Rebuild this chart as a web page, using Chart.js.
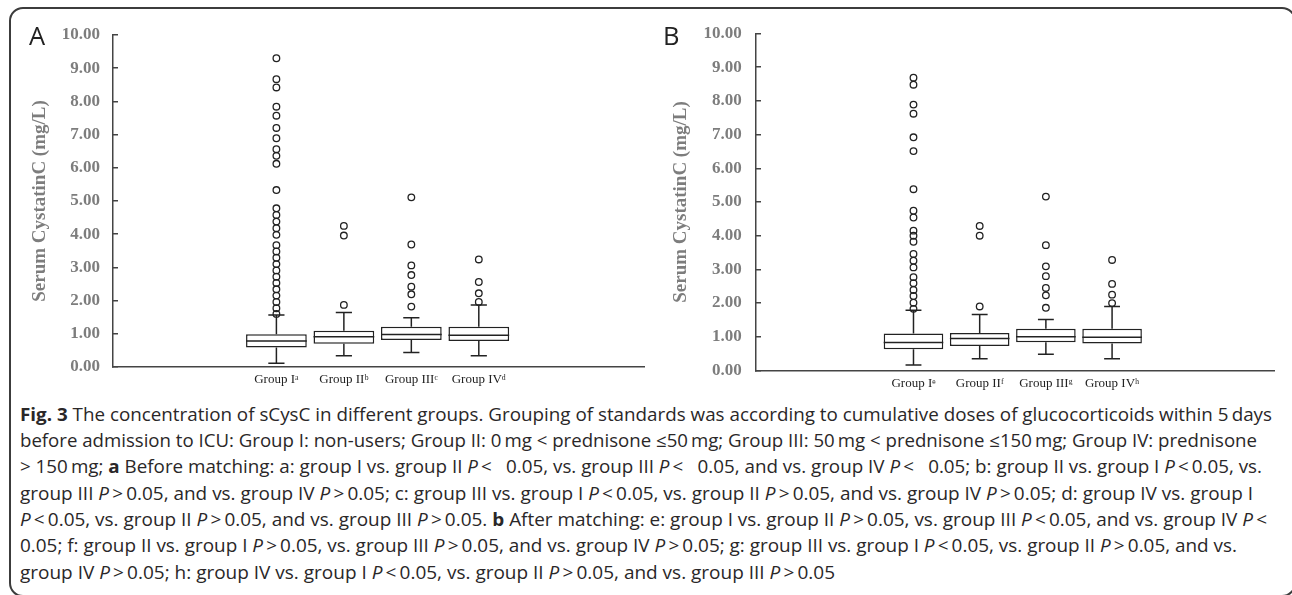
<!DOCTYPE html>
<html>
<head>
<meta charset="utf-8">
<script src="https://cdn.jsdelivr.net/npm/chart.js@4.4.1/dist/chart.umd.min.js"></script>
<style>
html,body{margin:0;padding:0;background:#fff;}
body{width:1292px;height:595px;position:relative;overflow:hidden;}
#frame{position:absolute;left:9px;top:7px;width:1287px;height:590px;border:2px solid #3c3c3c;border-radius:14px;box-sizing:border-box;}
#ca{position:absolute;left:0;top:0;}
#cb{position:absolute;left:645px;top:0;}
.cap{position:absolute;left:20px;top:0;white-space:nowrap;font-family:"Open Sans",sans-serif;font-size:17.5px;line-height:1;color:#2a2728;transform-origin:0 0;}
.probe{display:inline-block;width:0;height:0;vertical-align:baseline;}
</style>
</head>
<body>
<div id="frame"></div>
<canvas id="ca" width="650" height="400"></canvas>
<canvas id="cb" width="645" height="400"></canvas>
<script>
// ---------- data ----------
const groupNumbers = [1, 2, 3, 4];
const yTickValues = [0, 1, 2, 3, 4, 5, 6, 7, 8, 9, 10];
const labelsA = ['Group I\u1d43', 'Group II\u1d47', 'Group III\u1d9c', 'Group IV\u1d48'];
const labelsB = ['Group I\u1d49', 'Group II\u1da0', 'Group III\u1d4d', 'Group IV\u02b0'];

// Panel A: before matching
const q1A  = [0.59, 0.70, 0.81, 0.78];
const medA = [0.78, 0.91, 0.98, 0.96];
const q3A  = [0.99, 1.09, 1.21, 1.21];
const loA  = [0.11, 0.34, 0.44, 0.34];
const hiA  = [1.57, 1.64, 1.48, 1.87];
const outA1 = [9.30, 8.67, 8.42, 7.84, 7.57, 7.20, 6.89, 6.56, 6.36, 6.12, 5.33, 4.78, 4.58, 4.38, 4.18, 3.98, 3.67, 3.48, 3.29, 3.10, 2.91, 2.72, 2.53, 2.34, 2.15, 1.96, 1.77, 1.60];
const outA2 = [4.25, 3.96, 1.87];
const outA3 = [5.11, 3.69, 3.06, 2.77, 2.42, 2.19, 1.82];
const outA4 = [3.24, 2.56, 2.22, 1.96];

// Panel B: after matching
const q1B  = [0.63, 0.73, 0.84, 0.80];
const medB = [0.83, 0.95, 1.00, 0.99];
const q3B  = [1.10, 1.11, 1.24, 1.24];
const loB  = [0.16, 0.35, 0.48, 0.35];
const hiB  = [1.79, 1.66, 1.51, 1.90];
const outB1 = [8.69, 8.48, 7.89, 7.62, 6.92, 6.51, 5.38, 4.74, 4.54, 4.15, 4.00, 3.82, 3.46, 3.26, 3.06, 2.77, 2.59, 2.39, 2.21, 2.01, 1.83];
const outB2 = [4.29, 4.00, 1.90];
const outB3 = [5.16, 3.72, 3.09, 2.80, 2.45, 2.23, 1.86];
const outB4 = [3.28, 2.57, 2.25, 2.00];

const captionLines = [
 '<b>Fig. 3</b> The concentration of sCysC in different groups. Grouping of standards was according to cumulative doses of glucocorticoids within 5\u2009days',
 'before admission to ICU: Group I: non-users; Group II: 0\u2009mg &lt; prednisone \u226450\u2009mg; Group III: 50\u2009mg &lt; prednisone \u2264150\u2009mg; Group IV: prednisone',
 '&gt; 150\u2009mg; <b>a</b> Before matching: a: group I vs. group II <i>P</i>\u2009&lt;\u2002 0.05, vs. group III <i>P</i>\u2009&lt;\u2002 0.05, and vs. group IV <i>P</i>\u2009&lt;\u2002 0.05; b: group II vs. group I <i>P</i>\u2009&lt;\u20090.05, vs.',
 'group III <i>P</i>\u2009&gt;\u20090.05, and vs. group IV <i>P</i>\u2009&gt;\u20090.05; c: group III vs. group I <i>P</i>\u2009&lt;\u20090.05, vs. group II <i>P</i>\u2009&gt;\u20090.05, and vs. group IV <i>P</i>\u2009&gt;\u20090.05; d: group IV vs. group I',
 '<i>P</i>\u2009&lt;\u20090.05, vs. group II <i>P</i>\u2009&gt;\u20090.05, and vs. group III <i>P</i>\u2009&gt;\u20090.05. <b>b</b> After matching: e: group I vs. group II <i>P</i>\u2009&gt;\u20090.05, vs. group III <i>P</i>\u2009&lt;\u20090.05, and vs. group IV <i>P</i>\u2009&lt;',
 '0.05; f: group II vs. group I <i>P</i>\u2009&gt;\u20090.05, vs. group III <i>P</i>\u2009&gt;\u20090.05, and vs. group IV <i>P</i>\u2009&gt;\u20090.05; g: group III vs. group I <i>P</i>\u2009&lt;\u20090.05, vs. group II <i>P</i>\u2009&gt;\u20090.05, and vs.',
 'group IV <i>P</i>\u2009&gt;\u20090.05; h: group IV vs. group I <i>P</i>\u2009&lt;\u20090.05, vs. group II <i>P</i>\u2009&gt;\u20090.05, and vs. group III <i>P</i>\u2009&gt;\u20090.05'
];

// ---------- styles ----------
const INK = '#222';
const AXIS = '#444';
const GREY = '#7d7d7d';
const SERIF = '"Liberation Serif", "Times New Roman", serif';
const CAP_HALF = 0.12;
const BOX_HALF = 0.45;

const panelLabel = {
  id: 'panelLabel',
  afterDraw(chart, args, opts) {
    const ctx = chart.ctx;
    ctx.save();
    ctx.font = '25.5px "Open Sans", sans-serif';
    ctx.fillStyle = INK;
    ctx.textBaseline = 'alphabetic';
    ctx.textAlign = 'left';
    ctx.fillText(opts.text, opts.x, opts.y);
    ctx.restore();
  }
};

function buildLines(q1, med, q3, lo, hi) {
  const pts = [];
  groupNumbers.forEach((x, i) => {
    pts.push({x: x, y: q3[i]}, {x: x, y: hi[i]}, {x: x, y: null});
    pts.push({x: x - CAP_HALF, y: hi[i]}, {x: x + CAP_HALF, y: hi[i]}, {x: x, y: null});
    pts.push({x: x, y: q1[i]}, {x: x, y: lo[i]}, {x: x, y: null});
    pts.push({x: x - CAP_HALF, y: lo[i]}, {x: x + CAP_HALF, y: lo[i]}, {x: x, y: null});
    pts.push({x: x - BOX_HALF, y: med[i]}, {x: x + BOX_HALF, y: med[i]}, {x: x, y: null});
  });
  return pts;
}

function makeChart(id, p) {
  const outliers = [];
  p.out.forEach((arr, i) => arr.forEach(v => outliers.push({x: groupNumbers[i], y: v})));
  const cfg = {
    type: 'bar',
    data: {
      datasets: [
        {
          type: 'bar',
          data: groupNumbers.map((x, i) => ({x: x, y: [p.q1[i], p.q3[i]]})),
          backgroundColor: '#ffffff',
          borderColor: INK,
          borderWidth: 1.5,
          borderSkipped: false,
          categoryPercentage: 1,
          barPercentage: 0.9,
          order: 3
        },
        {
          type: 'line',
          data: buildLines(p.q1, p.med, p.q3, p.lo, p.hi),
          borderColor: INK,
          borderWidth: 1.5,
          pointRadius: 0,
          spanGaps: false,
          fill: false,
          order: 2
        },
        {
          type: 'scatter',
          data: outliers,
          pointStyle: 'circle',
          pointRadius: 3.3,
          pointBorderWidth: 1.3,
          borderColor: INK,
          backgroundColor: 'rgba(255,255,255,0)',
          order: 1
        }
      ]
    },
    options: {
      responsive: false,
      animation: false,
      devicePixelRatio: 1,
      layout: {padding: {left: 0, top: p.area.top - 10, right: 5, bottom: 10}},
      plugins: {
        legend: {display: false},
        tooltip: {enabled: false},
        panelLabel: {text: p.panel, x: p.panelX, y: 45}
      },
      scales: {
        x: {
          type: 'linear',
          min: p.xmin, max: p.xmax,
          offset: false,
          afterBuildTicks: s => { s.ticks = groupNumbers.map(v => ({value: v})); },
          ticks: {
            autoSkip: false, maxRotation: 0,
            callback: v => p.labels[groupNumbers.indexOf(v)],
            font: {family: SERIF, size: 13},
            color: INK,
            padding: 5
          },
          grid: {display: false, drawTicks: false, offset: false},
          border: {display: true, color: AXIS, width: 1.5}
        },
        y: {
          type: 'linear',
          min: 0, max: 10,
          afterBuildTicks: s => { s.ticks = yTickValues.map(v => ({value: v})); },
          afterFit: s => { s.width = p.yWidth; },
          ticks: {
            callback: v => v.toFixed(2),
            font: {family: SERIF, size: 17, weight: 'bold'},
            color: GREY,
            padding: p.tickPad
          },
          grid: {display: true, drawOnChartArea: false, drawTicks: true, tickLength: -5, color: AXIS, lineWidth: 1.5},
          border: {display: true, color: AXIS, width: 1.5},
          title: {
            display: true,
            text: 'Serum CystatinC (mg/L)',
            font: {family: SERIF, size: 19, weight: 'bold'},
            color: GREY,
            padding: {top: p.titlePad, bottom: 0}
          }
        }
      }
    },
    plugins: [panelLabel]
  };
  const chart = new Chart(document.getElementById(id), cfg);
  // fit the plot area to the target rectangle
  for (let k = 0; k < 3; k++) {
    const a = chart.chartArea;
    const pad = Object.assign({}, cfg.options.layout.padding);
    pad.top += p.area.top - a.top;
    pad.bottom += a.bottom - p.area.bottom;
    pad.right += a.right - p.area.right;
    cfg.options.layout.padding = pad;
    chart.options.layout.padding = pad;
    chart.update('none');
  }
  return chart;
}

makeChart('ca', {
  panel: 'A', panelX: 29,
  labels: labelsA, q1: q1A, med: medA, q3: q3A, lo: loA, hi: hiA,
  out: [outA1, outA2, outA3, outA4],
  xmin: -1.422, xmax: 6.459,
  yWidth: 113, tickPad: 18, titlePad: 28.6,
  area: {top: 35, bottom: 367, right: 645}
});

makeChart('cb', {
  panel: 'B', panelX: 18,
  labels: labelsB, q1: q1B, med: medB, q3: q3B, lo: loB, hi: hiB,
  out: [outB1, outB2, outB3, outB4],
  xmin: -1.379, xmax: 6.446,
  yWidth: 111, tickPad: 19.3, titlePad: 24.9,
  area: {top: 33.5, bottom: 372, right: 629}
});

// ---------- caption ----------
const captionRight = [1272, 1257, 1262, 1253, 1267, 1237, 835];
const captionBase0 = 420.7, captionStep = 26.3;
captionLines.forEach((html, i) => {
  const d = document.createElement('div');
  d.className = 'cap';
  d.innerHTML = html + '<span class="probe"></span>';
  document.body.appendChild(d);
  const probe = d.querySelector('.probe');
  const w = d.getBoundingClientRect().width;
  const base = probe.offsetTop;
  d.style.top = (captionBase0 + captionStep * i - base) + 'px';
  d.style.transform = 'scaleX(' + ((captionRight[i] - 20) / w) + ')';
});
</script>
</body>
</html>
